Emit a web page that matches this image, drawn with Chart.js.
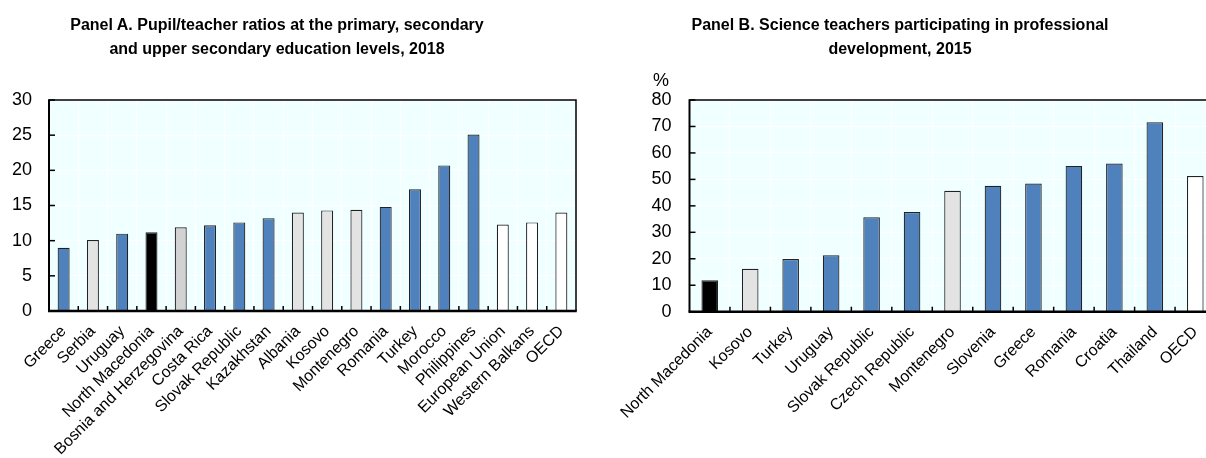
<!DOCTYPE html>
<html><head><meta charset="utf-8">
<script src="https://cdn.jsdelivr.net/npm/chart.js@4"></script>
<style>
html,body{margin:0;padding:0;background:#fff;overflow:hidden;width:1206px;height:458px;}
#wrap{position:relative;width:1206px;height:458px;overflow:hidden;}
.t{position:absolute;font:bold 16px "Liberation Sans",Arial,sans-serif;line-height:24px;text-align:center;color:#000;white-space:nowrap;}
.u{position:absolute;font:18px "Liberation Sans",Arial,sans-serif;color:#000;line-height:20px;}
#ca{position:absolute;left:0;top:0;}
#cb{position:absolute;left:600px;top:0;}
</style></head><body>
<div id="wrap">
<canvas id="ca" width="600" height="458"></canvas>
<canvas id="cb" width="620" height="458"></canvas>
<div class="t" style="left:27px;width:500px;top:13px">Panel A. Pupil/teacher ratios at the primary, secondary<br>and upper secondary education levels, 2018</div>
<div class="t" style="left:650px;width:500px;top:13px">Panel B. Science teachers participating in professional<br>development, 2015</div>
<div class="u" style="left:653px;top:70px">%</div>
</div>
<script>
// ---- Panel A data ----
const catsA = ['Greece','Serbia','Uruguay','North Macedonia','Bosnia and Herzegovina','Costa Rica','Slovak Republic','Kazakhstan','Albania','Kosovo','Montenegro','Romania','Turkey','Morocco','Philippines','European Union','Western Balkans','OECD'];
const valsA = [9.0, 10.1, 11.0, 11.2, 11.9, 12.2, 12.6, 13.2, 14.0, 14.3, 14.4, 14.8, 17.3, 20.7, 25.1, 12.3, 12.6, 14.0];
const groupA = ['other','wb','other','nmk','wb2','other','other','other','wb','wb','wb','other','other','other','other','agg','agg','agg'];
const yTicksA = [0, 5, 10, 15, 20, 25, 30];

// ---- Panel B data ----
const catsB = ['North Macedonia','Kosovo','Turkey','Uruguay','Slovak Republic','Czech Republic','Montenegro','Slovenia','Greece','Romania','Croatia','Thailand','OECD'];
const valsB = [11.9, 16.2, 19.9, 21.3, 35.7, 37.7, 45.7, 47.6, 48.4, 55.1, 56.0, 71.6, 51.3];
const groupB = ['nmk','wb','other','other','other','other','wb','other','other','other','other','other','agg'];
const yTicksB = [0, 10, 20, 30, 40, 50, 60, 70, 80];

const groupColor = {other:'#4F81BD', wb:'#E3E3E3', wb2:'#D2D2D2', nmk:'#000000', agg:'#FFFFFF'};
const FAM = '"Liberation Sans", Arial, sans-serif';

const framePlugin = {
  id: 'frame',
  beforeDraw(chart) {
    const {ctx, chartArea: a} = chart;
    ctx.save();
    ctx.fillStyle = '#F0FFFF';
    ctx.fillRect(a.left, a.top, a.right - a.left, a.bottom - a.top);
    ctx.restore();
  },
  afterDatasetsDraw(chart) {
    const {ctx, chartArea: a} = chart;
    const xs = chart.scales.x, ys = chart.scales.y;
    ctx.save();
    ctx.strokeStyle = '#000';
    ctx.lineWidth = 1.5;
    ys.ticks.forEach(t => {
      const y = ys.getPixelForValue(t.value);
      ctx.beginPath(); ctx.moveTo(a.left, y); ctx.lineTo(a.left + 6, y); ctx.stroke();
    });
    const n = xs.getLabels().length;
    for (let i = 1; i < n; i++) {
      const x = (xs.getPixelForValue(i - 1) + xs.getPixelForValue(i)) / 2;
      ctx.beginPath(); ctx.moveTo(x, a.bottom); ctx.lineTo(x, a.bottom - 5); ctx.stroke();
    }
    ctx.lineWidth = 1.5;
    ctx.beginPath(); ctx.moveTo(a.left, a.top); ctx.lineTo(a.right, a.top); ctx.lineTo(a.right, a.bottom); ctx.stroke();
    ctx.lineWidth = 2;
    ctx.beginPath(); ctx.moveTo(a.left, a.top - 0.75); ctx.lineTo(a.left, a.bottom); ctx.stroke();
    ctx.lineWidth = 2.5;
    ctx.beginPath(); ctx.moveTo(a.left - 1, a.bottom); ctx.lineTo(a.right + 0.75, a.bottom); ctx.stroke();
    ctx.restore();
  }
};

function makeChart(id, cats, vals, groups, yTicks, yWidth, xHeight, padRight, barPct, yPad) {
  return new Chart(document.getElementById(id), {
    type: 'bar',
    data: {
      labels: cats,
      datasets: [{
        data: vals,
        backgroundColor: groups.map(g => groupColor[g]),
        borderColor: '#222',
        borderWidth: 1.2,
        barPercentage: barPct,
        categoryPercentage: 1.0
      }]
    },
    options: {
      responsive: false,
      animation: false,
      layout: {padding: {top: 100, right: padRight, left: 0, bottom: 0}},
      plugins: {legend: {display: false}, tooltip: {enabled: false}},
      scales: {
        x: {
          grid: {color: '#FFFFFF', lineWidth: 1, offset: true, drawTicks: false},
          border: {display: false},
          ticks: {minRotation: 45, maxRotation: 45, autoSkip: false, padding: 11, color: '#000', font: {size: 16, family: FAM}},
          afterFit(s) { s.height = xHeight; }
        },
        y: {
          min: yTicks[0], max: yTicks[yTicks.length - 1],
          afterBuildTicks(s) { s.ticks = yTicks.map(v => ({value: v})); },
          grid: {color: '#FFFFFF', lineWidth: 1, drawTicks: false},
          border: {display: false},
          ticks: {padding: yPad, color: '#000', font: {size: 18, family: FAM}},
          afterFit(s) { s.width = yWidth; }
        }
      }
    },
    plugins: [framePlugin]
  });
}

makeChart('ca', catsA, valsA, groupA, yTicksA, 49, 147, 24, 0.41, 17);
makeChart('cb', catsB, valsB, groupB, yTicksB, 89.5, 146.3, 3.2, 0.41, 18);
</script>
</body></html>
